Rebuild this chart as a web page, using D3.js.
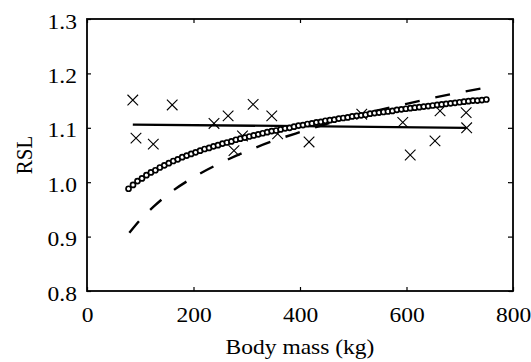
<!DOCTYPE html>
<html><head><meta charset="utf-8">
<script src="https://cdn.jsdelivr.net/npm/d3@7"></script>
<style>html,body{margin:0;padding:0;background:#fff;}svg{display:block;}</style>
</head><body>
<script>
// ---- data ----
const xTicks = [0, 200, 400, 600, 800];
const yTicks = [0.8, 0.9, 1.0, 1.1, 1.2, 1.3];
const xLabel = "Body mass (kg)";
const yLabel = "RSL";

// observed points (crosses)
const obsMass = [86, 92, 124.5, 160, 238.5, 265, 276, 292, 312, 347, 358, 417, 516, 593, 607, 653.5, 663, 712, 713];
const obsRSL  = [1.151, 1.081, 1.070, 1.142, 1.108, 1.122, 1.058, 1.085, 1.143, 1.122, 1.089, 1.074, 1.125, 1.110, 1.050, 1.076, 1.131, 1.128, 1.100];

// linear fit (solid line)
const linMass = [86, 712];
const linRSL  = [1.106, 1.100];

// circle-marker curve
const circMass = [78,86.4,94.8,103.2,111.6,120,128.4,136.8,145.2,153.6,162,170.4,178.8,187.2,195.6,204,212.4,220.8,229.2,237.6,246,254.4,262.8,271.2,279.6,288,296.4,304.8,313.2,321.6,330,338.4,346.8,355.2,363.6,372,380.4,388.8,397.2,405.6,414,422.4,430.8,439.2,447.6,456,464.4,472.8,481.2,489.6,498,506.4,514.8,523.2,531.6,540,548.4,556.8,565.2,573.6,582,590.4,598.8,607.2,615.6,624,632.4,640.8,649.2,657.6,666,674.4,682.8,691.2,699.6,708,716.4,724.8,733.2,741.6,750];
const circRSL  = [0.988,0.995,1.002,1.007,1.013,1.018,1.022,1.027,1.031,1.035,1.039,1.042,1.046,1.049,1.052,1.055,1.058,1.061,1.063,1.066,1.068,1.071,1.073,1.075,1.078,1.080,1.082,1.084,1.086,1.088,1.090,1.092,1.094,1.095,1.097,1.099,1.100,1.102,1.104,1.105,1.107,1.108,1.110,1.111,1.113,1.114,1.115,1.117,1.118,1.119,1.121,1.122,1.123,1.124,1.126,1.127,1.128,1.129,1.130,1.131,1.133,1.134,1.135,1.136,1.137,1.138,1.139,1.140,1.141,1.142,1.143,1.144,1.145,1.146,1.147,1.148,1.149,1.150,1.150,1.151,1.152];

// dashed curve
const dashMass = [79.5, 100, 125, 150, 200, 250, 300, 350, 400, 450, 500, 550, 600, 650, 700, 750];
const dashRSL  = [0.907, 0.931, 0.955, 0.976, 1.009, 1.035, 1.057, 1.076, 1.092, 1.107, 1.121, 1.133, 1.144, 1.155, 1.165, 1.174];

// ---- layout ----
const W = 531, H = 362;
const L = 87, R = 513, T = 19, B = 291;
const FONT = "Liberation Serif, Times New Roman, serif";
const FS = 21, SX = 1.12;

const svg = d3.select("body").append("svg").attr("width", W).attr("height", H);

const x = d3.scaleLinear().domain([0, 800]).range([L, R]);
const y = d3.scaleLinear().domain([0.8, 1.3]).range([B, T]);

// crosses (drawn under the circle curve)
const cs = 5.3;
const crossG = svg.append("g").attr("stroke", "#000").attr("stroke-width", 1.1).attr("fill", "none");
obsMass.forEach((m, i) => {
  const cx = x(m), cy = y(obsRSL[i]);
  crossG.append("path").attr("d", `M${cx-cs},${cy-cs}L${cx+cs},${cy+cs}M${cx-cs},${cy+cs}L${cx+cs},${cy-cs}`);
});

// solid linear fit
const line = d3.line().x(d => x(d[0])).y(d => y(d[1]));
svg.append("path").datum(linMass.map((m, i) => [m, linRSL[i]]))
  .attr("d", line).attr("fill", "none").attr("stroke", "#000").attr("stroke-width", 2.3);

// dashed curve
svg.append("path").datum(dashMass.map((m, i) => [m, dashRSL[i]]))
  .attr("d", d3.line().curve(d3.curveMonotoneX).x(d => x(d[0])).y(d => y(d[1])))
  .attr("fill", "none").attr("stroke", "#000").attr("stroke-width", 2.4)
  .attr("stroke-dasharray", "15,16");

// circle curve
svg.append("g").selectAll("circle").data(circMass.map((m, i) => [m, circRSL[i]]))
  .join("circle").attr("cx", d => x(d[0])).attr("cy", d => y(d[1])).attr("r", 2.5)
  .attr("fill", "#fff").attr("stroke", "#000").attr("stroke-width", 1.7);

// axes
const fmt = d3.format(".1f");
function styleAxis(g) {
  g.select(".domain").remove();
  g.selectAll(".tick line").attr("stroke", "#000").attr("stroke-width", 1.2);
  g.selectAll("text").attr("font-family", FONT).attr("font-size", FS).attr("fill", "#000");
}
const gB = svg.append("g").attr("transform", `translate(0,${B})`)
  .call(d3.axisBottom(x).tickValues(xTicks).tickSize(-4).tickPadding(15.6));
styleAxis(gB);
gB.selectAll("text").attr("transform", `scale(${SX},1)`);

const gL = svg.append("g").attr("transform", `translate(${L},0)`)
  .call(d3.axisLeft(y).tickValues(yTicks).tickFormat(fmt).tickSize(-4).tickPadding(10 / SX));
styleAxis(gL);
gL.selectAll("text").attr("dy", null).attr("y", 9).attr("transform", `scale(${SX},1)`);

const gT = svg.append("g").attr("transform", `translate(0,${T})`)
  .call(d3.axisTop(x).tickValues(xTicks).tickSize(-4).tickFormat(""));
styleAxis(gT);
const gR = svg.append("g").attr("transform", `translate(${R},0)`)
  .call(d3.axisRight(y).tickValues(yTicks).tickSize(-5).tickFormat(""));
styleAxis(gR);

// frame
svg.append("rect").attr("x", L).attr("y", T).attr("width", R - L).attr("height", B - T)
  .attr("fill", "none").attr("stroke", "#000").attr("stroke-width", 1.8);

// axis titles
svg.append("text").attr("transform", `translate(${(L + R) / 2},354) scale(${SX},1)`)
  .attr("text-anchor", "middle").attr("font-family", FONT).attr("font-size", FS).text(xLabel);
svg.append("text").attr("transform", `translate(32,${(T + B) / 2}) scale(${SX},1) rotate(-90)`)
  .attr("text-anchor", "middle").attr("font-family", FONT).attr("font-size", FS).text(yLabel);
</script>
</body></html>
